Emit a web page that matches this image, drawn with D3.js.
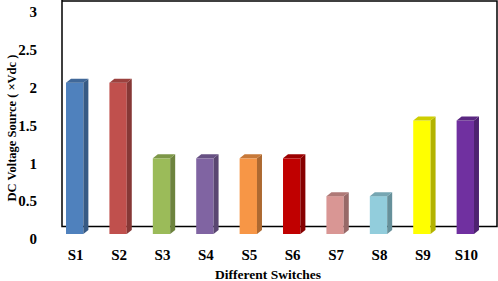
<!DOCTYPE html>
<html>
<head>
<meta charset="utf-8">
<script src="https://cdn.jsdelivr.net/npm/d3@7"></script>
<style>
  body { margin: 0; background: #fff; }
  text { font-family: "Liberation Serif", "Times New Roman", serif; font-weight: bold; fill: #000; }
</style>
</head>
<body>
<div id="chart"></div>
<script>
const switches = ["S1", "S2", "S3", "S4", "S5", "S6", "S7", "S8", "S9", "S10"];
const voltages = [2, 2, 1, 1, 1, 1, 0.5, 0.5, 1.5, 1.5];
const barColors = ["#4F81BD", "#C0504D", "#9BBB59", "#8064A2", "#F79646",
                   "#C00000", "#D99694", "#92CDDC", "#FFFF00", "#7030A0"];
const yTicks = [0, 0.5, 1, 1.5, 2, 2.5, 3];

const width = 498, height = 281;
const depthX = 5, depthY = 4;

const svg = d3.select("#chart").append("svg")
  .attr("width", width)
  .attr("height", height);

const x = d3.scaleBand().domain(switches).range([53, 487]).paddingInner(0.6).paddingOuter(0.3);
const y = d3.scaleLinear().domain([0, 3]).range([239, 12]);
const barOff = -5; // front faces sit slightly above the tick positions

// frame
svg.append("path")
  .attr("d", `M62,0 V226.5 H497 V1 H62`)
  .attr("fill", "none")
  .attr("stroke", "#000")
  .attr("stroke-width", 1.5);

// bars (pseudo-3D)
switches.forEach((s, i) => {
  const x0 = x(s), w = x.bandwidth();
  const yt = y(voltages[i]) + barOff, yb = y(0) + barOff;
  const c = d3.color(barColors[i]);
  const g = svg.append("g");
  g.append("rect").attr("x", x0).attr("y", yt).attr("width", w).attr("height", yb - yt).attr("fill", c);
  g.append("path")
    .attr("d", `M${x0 + w},${yt} L${x0 + w + depthX},${yt - depthY} L${x0 + w + depthX},${yb - depthY} L${x0 + w},${yb} Z`)
    .attr("fill", c.darker(1));
  g.append("path")
    .attr("d", `M${x0},${yt} L${x0 + depthX},${yt - depthY} L${x0 + w + depthX},${yt - depthY} L${x0 + w},${yt} Z`)
    .attr("fill", c.darker(0.6));
});

// y tick labels
svg.selectAll(".ytick").data(yTicks).enter().append("text")
  .attr("class", "ytick")
  .attr("x", 37)
  .attr("y", d => y(d))
  .attr("dy", "0.35em")
  .attr("text-anchor", "end")
  .attr("font-size", 15)
  .text(d => d);

// x labels
svg.selectAll(".xtick").data(switches).enter().append("text")
  .attr("class", "xtick")
  .attr("x", d => x(d) + x.bandwidth() / 2 + 1)
  .attr("y", 255)
  .attr("dy", "0.35em")
  .attr("text-anchor", "middle")
  .attr("font-size", 15)
  .text(d => d);

svg.append("text")
  .attr("x", 268)
  .attr("y", 274)
  .attr("dy", "0.35em")
  .attr("text-anchor", "middle")
  .attr("font-size", 13.5)
  .text("Different Switches");

svg.append("text")
  .attr("transform", "translate(12,128) rotate(-90)")
  .attr("dy", "0.35em")
  .attr("text-anchor", "middle")
  .attr("font-size", 12.5)
  .text("DC Voltage Source ( \u00d7Vdc )");
</script>
</body>
</html>
